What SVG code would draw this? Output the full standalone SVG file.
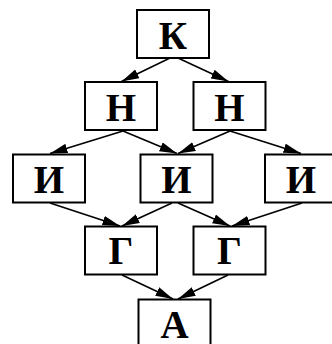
<svg xmlns="http://www.w3.org/2000/svg" width="332" height="344" viewBox="0 0 332 344">
<style>
.box{fill:#fff;stroke:#000;stroke-width:2}
.lbl{font-family:"Liberation Serif","Times New Roman",serif;font-weight:bold;font-size:39px;text-anchor:middle;fill:#000}
.edge{stroke:#000;stroke-width:1.6;fill:none;marker-end:url(#arr)}
</style>
<defs>
<marker id="arr" markerUnits="userSpaceOnUse" markerWidth="18" markerHeight="10" refX="17.5" refY="4.75" orient="auto">
<path d="M0,0 L17.5,4.75 L0,9.5 z" fill="#000"/>
</marker>
</defs>
<rect width="332" height="344" fill="#fff"/>
<g id="connectors">
<line class="edge" x1="170" y1="58" x2="121.5" y2="81.5"/>
<line class="edge" x1="178" y1="58" x2="228.5" y2="81.5"/>
<line class="edge" x1="123" y1="131" x2="50" y2="153.5"/>
<line class="edge" x1="123" y1="131" x2="177" y2="153.5"/>
<line class="edge" x1="230" y1="131" x2="178" y2="153.5"/>
<line class="edge" x1="230" y1="131" x2="301" y2="153.5"/>
<line class="edge" x1="50" y1="203" x2="120" y2="226"/>
<line class="edge" x1="172" y1="203" x2="122" y2="226"/>
<line class="edge" x1="178" y1="203" x2="230" y2="226"/>
<line class="edge" x1="302" y1="203" x2="232" y2="226"/>
<line class="edge" x1="122" y1="275" x2="173" y2="299"/>
<line class="edge" x1="228" y1="275" x2="178" y2="299"/>
</g>
<g id="node-K"><rect class="box" x="137" y="10" width="72" height="48"/><text class="lbl" x="173" y="48.5">К</text></g>
<g id="node-N1"><rect class="box" x="85" y="82" width="72" height="48"/><text class="lbl" x="121" y="120.5">Н</text></g>
<g id="node-N2"><rect class="box" x="193.5" y="82" width="72" height="48"/><text class="lbl" x="229.5" y="120.5">Н</text></g>
<g id="node-I1"><rect class="box" x="13" y="154.5" width="72" height="48"/><text class="lbl" x="49" y="193">И</text></g>
<g id="node-I2"><rect class="box" x="140.5" y="154.5" width="72" height="48"/><text class="lbl" x="176.5" y="193">И</text></g>
<g id="node-I3"><rect class="box" x="265" y="154.5" width="72" height="48"/><text class="lbl" x="301" y="193">И</text></g>
<g id="node-G1"><rect class="box" x="85" y="226.5" width="72" height="48"/><text class="lbl" x="121" y="264">Г</text></g>
<g id="node-G2"><rect class="box" x="193.5" y="226.5" width="72" height="48"/><text class="lbl" x="229.5" y="264">Г</text></g>
<g id="node-A"><rect class="box" x="138.5" y="299.5" width="72" height="48"/><text class="lbl" x="174.5" y="337.5">А</text></g>
</svg>
